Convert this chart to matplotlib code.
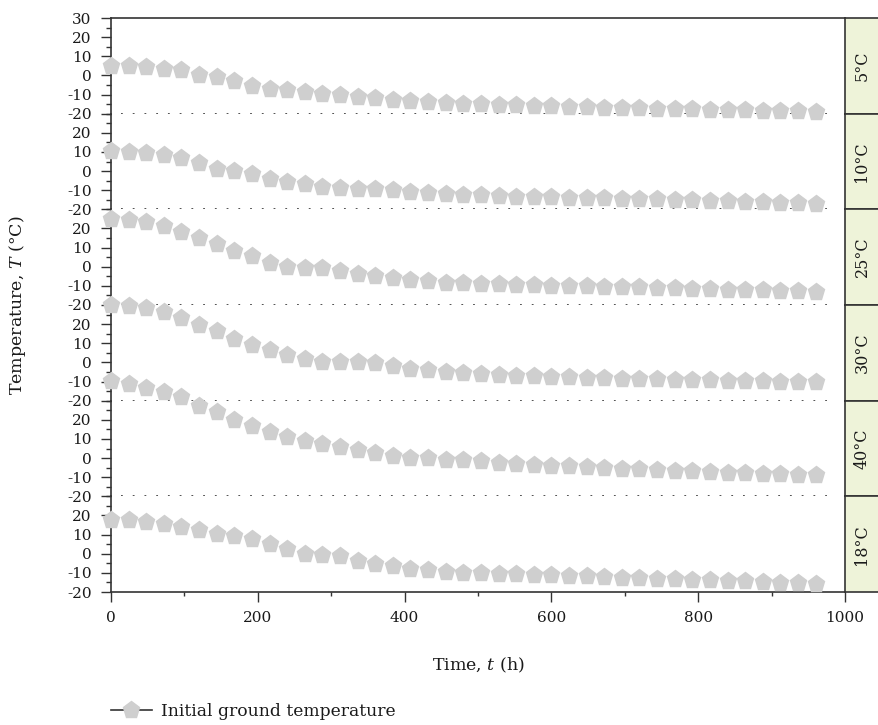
import matplotlib
matplotlib.use("Agg")
import matplotlib.pyplot as plt
from matplotlib.lines import Line2D
from matplotlib.ticker import MultipleLocator

plt.rcParams["font.family"] = ["DejaVu Serif"]
plt.rcParams["mathtext.fontset"] = "custom"
plt.rcParams["mathtext.rm"] = "DejaVu Serif"
plt.rcParams["mathtext.it"] = "DejaVu Serif:italic"

# time axis (h)
hours = [0, 24, 48, 72, 96, 120, 144, 168, 192, 216, 240, 264, 288, 312, 336,
         360, 384, 408, 432, 456, 480, 504, 528, 552, 576, 600, 624, 648, 672,
         696, 720, 744, 768, 792, 816, 840, 864, 888, 912, 936, 960]

panel_labels = ["5°C", "10°C", "25°C", "30°C", "40°C", "18°C"]

temp_5 = [5.0, 5.0, 4.5, 3.6, 2.6, 0.0, -0.9, -2.8, -5.4, -7.0, -7.8, -8.7, -9.7,
          -10.4, -11.3, -12.0, -12.7, -13.4, -13.8, -14.5, -15.0, -15.2, -15.5,
          -15.7, -15.9, -16.1, -16.3, -16.5, -16.8, -17.0, -17.2, -17.4, -17.6,
          -17.8, -18.0, -18.1, -18.3, -18.4, -18.6, -18.8, -19.1]
temp_10 = [10.3, 10.0, 9.6, 8.3, 6.8, 4.0, 0.9, 0.0, -1.6, -4.0, -5.7, -7.0, -8.2,
           -8.9, -9.2, -9.2, -10.0, -10.8, -11.7, -12.1, -12.4, -12.7, -13.0,
           -13.3, -13.6, -13.8, -14.0, -14.2, -14.3, -14.4, -14.6, -14.8, -15.0,
           -15.3, -15.6, -15.8, -16.0, -16.3, -16.5, -16.8, -17.0]
temp_25 = [25.0, 24.6, 23.4, 21.5, 18.3, 15.2, 11.9, 8.2, 5.4, 2.1, 0.0, -0.5,
           -0.9, -2.1, -3.7, -4.9, -5.9, -6.8, -7.5, -8.3, -8.6, -8.9, -9.2, -9.5,
           -9.7, -9.9, -10.1, -10.3, -10.4, -10.5, -10.7, -11.0, -11.2, -11.4,
           -11.7, -11.9, -12.2, -12.4, -12.7, -12.9, -13.2]
temp_30 = [30.2, 29.7, 28.4, 26.2, 23.2, 19.7, 16.2, 12.2, 9.2, 6.6, 4.0, 1.7,
           0.2, 0.0, 0.0, -0.3, -2.1, -3.3, -4.2, -5.0, -5.6, -6.1, -6.5, -6.9,
           -7.2, -7.5, -7.8, -8.0, -8.3, -8.5, -8.7, -8.9, -9.0, -9.2, -9.4, -9.5,
           -9.7, -9.8, -10.0, -10.1, -10.2]
temp_40 = [40.1, 38.9, 36.8, 34.5, 31.8, 27.4, 24.1, 20.1, 16.7, 13.7, 11.1, 9.0,
           7.1, 5.6, 4.2, 2.4, 1.0, -0.2, -0.2, -0.9, -1.2, -1.5, -2.4, -3.0,
           -3.4, -4.0, -4.4, -4.8, -5.2, -5.6, -5.9, -6.2, -6.6, -7.0, -7.3, -7.6,
           -7.9, -8.2, -8.5, -8.7, -8.9]
temp_18 = [17.8, 17.8, 16.4, 15.4, 14.0, 12.2, 10.1, 9.1, 7.5, 5.2, 2.6, -0.3,
           -0.5, -1.4, -3.8, -5.2, -6.6, -7.9, -8.7, -9.6, -10.0, -10.2, -10.4,
           -10.7, -10.9, -11.1, -11.4, -11.8, -12.2, -12.5, -12.8, -13.0, -13.3,
           -13.6, -13.9, -14.2, -14.5, -14.8, -15.1, -15.4, -15.6]

series = [temp_5, temp_10, temp_25, temp_30, temp_40, temp_18]

W, H = 879, 725
fig = plt.figure(figsize=(W / 100, H / 100), dpi=100)

x0, x1 = 111 / W, 845 / W
y_top, y_bot = 1 - 18 / H, 1 - 592 / H
ph = (y_top - y_bot) / 6
spine_c = "#333333"
text_c = "#1a1a1a"
mcolor = "#cfcfcf"
strip_c = "#eef3d9"
fs_tick = 11
fs_lab = 12.5

n = len(series)
for k, (vals, lab) in enumerate(zip(series, panel_labels)):
    b = y_top - (k + 1) * ph
    ax = fig.add_axes([x0, b, x1 - x0, ph])
    ax.patch.set_alpha(0)
    ax.plot(hours, vals, linestyle="none", marker="p", ms=12.5,
            mfc=mcolor, mec=mcolor, clip_on=False, zorder=3)
    ax.set_xlim(0, 1000)
    ax.set_ylim(-20, 30)
    ticks = [-20, -10, 0, 10, 20] + ([30] if k == 0 else [])
    ax.set_yticks(ticks)
    ax.set_yticklabels([str(t) for t in ticks])
    ax.yaxis.set_minor_locator(MultipleLocator(5))
    ax.tick_params(axis="y", which="major", direction="out", length=7,
                   width=1, pad=7, labelsize=fs_tick, colors=spine_c,
                   labelcolor=text_c)
    ax.tick_params(axis="y", which="minor", direction="out", length=3.5,
                   width=1, colors=spine_c)
    for s in ax.spines.values():
        s.set_color(spine_c)
        s.set_linewidth(1.2)
    ax.spines["right"].set_visible(False)
    ax.spines["top"].set_visible(k == 0)
    ax.spines["bottom"].set_visible(k == n - 1)
    if k < n - 1:
        ax.axhline(-20, xmin=0.014, xmax=0.985, color="#444444", lw=1.3,
                   linestyle=(0, (1, 5.5)), zorder=1)
        ax.tick_params(axis="x", which="both", bottom=False, labelbottom=False)
    else:
        ax.set_xticks([0, 200, 400, 600, 800, 1000])
        ax.xaxis.set_minor_locator(MultipleLocator(100))
        ax.tick_params(axis="x", which="major", direction="out", length=7,
                       width=1, pad=7, labelsize=fs_tick, colors=spine_c,
                       labelcolor=text_c)
        ax.tick_params(axis="x", which="minor", direction="out", length=3,
                       width=1, colors=spine_c)

    # condition strip on the right
    sx = fig.add_axes([x1, b, 1 - x1 + 0.01, ph])
    sx.set_facecolor(strip_c)
    sx.set_xticks([])
    sx.set_yticks([])
    for name, s in sx.spines.items():
        s.set_color(spine_c)
        s.set_linewidth(1.2)
    sx.spines["right"].set_visible(False)
    sx.text(0.5 * (1 - x1) / (1 - x1 + 0.01), 0.5, lab, rotation=90,
            ha="center", va="center", fontsize=11.5, color=text_c,
            transform=sx.transAxes)

fig.text(18 / W, (y_top + y_bot) / 2, r"Temperature, $\it{T}$ (°C)",
         rotation=90, ha="center", va="center", fontsize=fs_lab, color=text_c)
fig.text((x0 + x1) / 2, 1 - 665 / H, r"Time, $\it{t}$ (h)",
         ha="center", va="center", fontsize=fs_lab, color=text_c)

handle = Line2D([], [], color=spine_c, lw=1.2, marker="p", ms=12.5,
                mfc=mcolor, mec=mcolor)
fig.legend([handle], ["Initial ground temperature"], loc="center left",
           bbox_to_anchor=(111 / W, 1 - 711 / H), frameon=False,
           fontsize=12.3, handlelength=2.4, borderpad=0, borderaxespad=0,
           handletextpad=0.5, labelcolor=text_c)

fig.savefig("out.png", dpi=100)
